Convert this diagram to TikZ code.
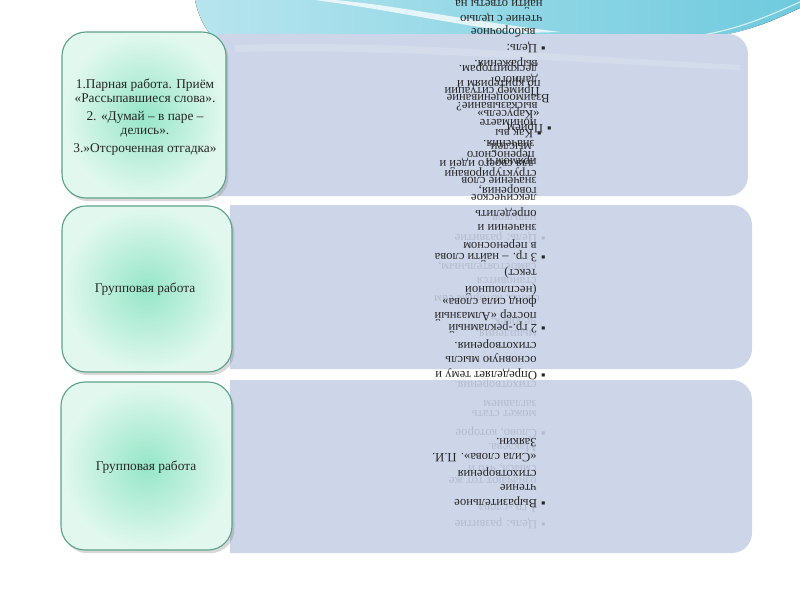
\documentclass[tikz,border=0pt]{standalone}
\usepackage{fontspec}
\setmainfont{Liberation Serif}
\usetikzlibrary{shadows}

\definecolor{boxblue}{RGB}{205,214,233}
\definecolor{mintin}{RGB}{150,230,200}
\definecolor{mintout}{RGB}{226,248,238}
\definecolor{mintline}{RGB}{92,162,138}
\definecolor{seacyan}{RGB}{95,196,218}

\tikzset{
  greenbox/.style={draw=mintline, thick, rounded corners=0.6cm,
    inner color=mintin, outer color=mintout,
    drop shadow={opacity=0.3, shadow xshift=0.6mm, shadow yshift=-0.8mm}},
  greentext/.style={align=center, font=\fontsize{9.5}{10}\selectfont, text=black!85},
  flipline/.style={rotate=180, anchor=west, inner sep=0pt,
    font=\fontsize{9}{10}\selectfont, text=black!85},
  ghostline/.style={flipline, text=black, text opacity=0.12},
}

\begin{document}
\begin{tikzpicture}[x=0.025cm, y=-0.025cm]
  \useasboundingbox (0,0) rectangle (800,600);

  % background swoosh
  \fill[left color=seacyan!45, middle color=seacyan!65, right color=seacyan!90]
    (195,0) -- (800,0) -- (800,8) .. controls (770,22) and (740,36) .. (690,39)
    -- (215,39) .. controls (205,30) and (198,15) .. (195,0) -- cycle;
  \fill[white, opacity=0.75] (335,0) .. controls (400,6) and (450,18) .. (560,32)
    -- (520,33) .. controls (440,22) and (390,10) .. (315,0) -- cycle;
  \draw[white, opacity=0.7, line width=0.8pt] (690,37) .. controls (740,30) and (770,15) .. (800,2);
  \draw[white, opacity=0.5, line width=0.6pt] (700,39) .. controls (745,33) and (775,22) .. (800,10);

  % blue panels
  \fill[boxblue] (218,34) [rounded corners=0.5cm] -- (748,34) -- (748,196)
    [sharp corners] -- (218,196) -- cycle;
  \fill[white, opacity=0.15] (235,45) .. controls (400,40) and (550,55) .. (740,65)
    -- (740,70) .. controls (550,62) and (400,48) .. (235,52) -- cycle;
  \fill[boxblue] (230,205) [rounded corners=0.5cm] -- (752,205) -- (752,369)
    [sharp corners] -- (230,369) -- cycle;
  \fill[boxblue] (230,380) [rounded corners=0.5cm] -- (752,380) -- (752,553)
    [sharp corners] -- (230,553) -- cycle;

  % green boxes
  \path[greenbox] (62,32) rectangle (226,198);
  \path[greenbox] (62,206) rectangle (232,372);
  \path[greenbox] (61,382) rectangle (232,550);

  \node[greentext] (pair) at (145,117) {1.Парная работа. Приём\\
    «Рассыпавшиеся слова».\\[3pt]
    2. «Думай – в паре –\\ делись».\\[3pt]
    3.»Отсроченная отгадка»};
  \node[greentext] (groupA) at (145,289) {Групповая работа};
  \node[greentext] (groupB) at (146,467) {Групповая работа};

  % faint lines behind
  \foreach \yy/\xx/\txt [count=\i] in {
      217/537/навыков, 237/546/{▪\hspace{3pt}Цель: развитие},
      265/537/{самостоятельным,}, 280/537/становится,
      297/540/{слово, которым сам}, 320/537/{человек,}, 333/537/мышления.,
      383/537/стихотворения., 403/537/заглавием, 413/537/может стать,
      432/546/{▪\hspace{3pt}Слово, которое}, 448/537/Макаева.,
      467/537/{смысл, что и}, 480/537/означают тот же,
      507/537/{1 гр.-слова}, 523/546/{▪\hspace{3pt}Цель: развитие}}
    \node[ghostline] (gh\i) at (\xx,\yy) {\txt};

  % upside-down lines
  \foreach \yy/\xx/\txt [count=\i] in {
      5/543/найти ответы на, 17/543/чтение с целью, 32/536/выборочное,
      47/546/{▪\hspace{3pt}Цель:}, 62/538/выражения., 67/538/дескрипторам.,
      78/538/данного, 82/541/по критериям и, 90/540/Пример ситуации,
      97/550/Взаимооценивание, 107/538/высказывание?, 113/540/«Карусель»,
      122/537/понимаете, 127/552/{▪\hspace{3pt}Прием}, 134/542/{▪\hspace{3pt}Как вы},
      143/535/значения., 148/532/мыслей., 153/535/переносного,
      160/537/прямом и, 164/535/для своего идей и, 172/537/структурировани,
      180/537/значение слов, 189/537/{говорения,}, 197/537/лексическое,
      212/537/определить, 227/537/значении и, 244/537/в переносном,
      256/546/{▪\hspace{3pt}3 гр. – найти слова}, 273/537/текст),
      290/537/(несплошной, 302/537/фонд сила слова», 315/537/постер «Алмазный,
      327/546/{▪\hspace{3pt}2 гр.-рекламный}, 344/537/стихотворения.,
      358/537/основную мысль, 374/546/{▪\hspace{3pt}Определяет тему и},
      443/537/Заякин., 458/537/«Сила слова». П.И., 472/537/стихотворения,
      487/537/чтение, 502/546/{▪\hspace{3pt}Выразительное}}
    \node[flipline] (ln\i) at (\xx,\yy) {\txt};
\end{tikzpicture}
\end{document}
